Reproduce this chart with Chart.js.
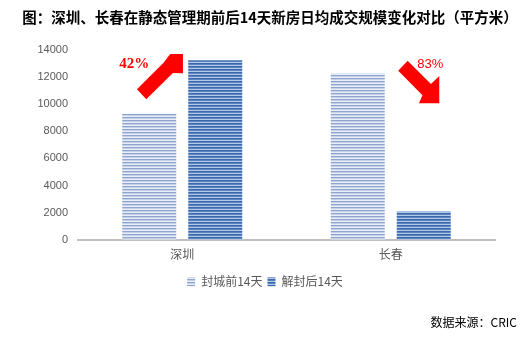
<!DOCTYPE html>
<html>
<head>
<meta charset="utf-8">
<script src="https://cdn.jsdelivr.net/npm/chart.js@4/dist/chart.umd.min.js"></script>
<style>
  html, body { margin: 0; padding: 0; background: #ffffff; }
  #wrap { width: 530px; height: 338px; }
</style>
</head>
<body>
<div id="wrap"><canvas id="c" width="530" height="338"></canvas></div>
<script>
// 城市与两个时段的日均成交面积（平方米）
const categories = ['深圳', '长春'];
const seriesNames = ['封城前14天', '解封后14天'];
const beforeValues = [9320, 12270];
const afterValues = [13250, 2090];
const changeLabels = ['42%', '83%'];
const yTicks = [0, 2000, 4000, 6000, 8000, 10000, 12000, 14000];

const titleText = '图：深圳、长春在静态管理期前后14天新房日均成交规模变化对比（平方米）';
const sourceText = '数据来源：CRIC';

// 横条纹填充
function stripePattern(rows) {
  const pc = document.createElement('canvas');
  pc.width = 4;
  pc.height = rows.length;
  const g = pc.getContext('2d');
  rows.forEach((col, i) => { g.fillStyle = col; g.fillRect(0, i, 4, 1); });
  return g.createPattern(pc, 'repeat');
}
const fillBefore = stripePattern(['#8ea6cf', '#c3d0e8', '#e8edf6']);
const fillAfter = stripePattern(['#3a69ad', '#5a84c0', '#b3c6e4']);

// 涨跌箭头（相对类目中心与绘图区顶部的偏移）
const arrowShapes = [
  { color: '#ff0000', pts: [[-45.3, 39.3], [-18.7, 12.7], [-12, 4], [0.7, 4], [0.7, 23.3], [-9.3, 23], [-36, 49.3]],
    label: { dx: -48, dy: 14, font: 'bold 15px "Liberation Serif"' } },
  { color: '#ff0000', pts: [[7.5, 20.7], [16.9, 10.7], [40.2, 34], [48.5, 26], [48.5, 53.3], [28.2, 53.3], [31.7, 45.3]],
    label: { dx: 39.5, dy: 14, font: '13px "Liberation Sans"' } }
];

const arrowPlugin = {
  id: 'changeArrows',
  afterDatasetsDraw(chart) {
    const ctx = chart.ctx;
    const xs = chart.scales.x;
    const top = chart.chartArea.top;
    ctx.save();
    arrowShapes.forEach((a, i) => {
      const ox = xs.getPixelForValue(i);
      ctx.beginPath();
      a.pts.forEach((p, k) => {
        const px = ox + p[0], py = top + p[1];
        if (k === 0) ctx.moveTo(px, py); else ctx.lineTo(px, py);
      });
      ctx.closePath();
      ctx.fillStyle = a.color;
      ctx.fill();
      ctx.font = a.label.font;
      ctx.fillStyle = '#ff0000';
      ctx.textAlign = 'center';
      ctx.textBaseline = 'middle';
      ctx.fillText(changeLabels[i], ox + a.label.dx, top + a.label.dy);
    });
    ctx.restore();
  }
};

// 标题与数据来源
const textPlugin = {
  id: 'headerFooter',
  afterDraw(chart) {
    const ctx = chart.ctx;
    ctx.save();
    ctx.fillStyle = '#000000';
    ctx.textBaseline = 'middle';
    ctx.font = 'bold 14.5px "Noto Sans CJK SC"';
    ctx.textAlign = 'center';
    ctx.fillText(titleText, 270, 17);
    ctx.font = '12px "Noto Sans CJK SC"';
    ctx.textAlign = 'right';
    ctx.fillText(sourceText, 517, 322);
    ctx.restore();
  }
};

new Chart(document.getElementById('c'), {
  type: 'bar',
  data: {
    labels: categories,
    datasets: [
      { label: seriesNames[0], data: beforeValues, backgroundColor: fillBefore, borderWidth: 0 },
      { label: seriesNames[1], data: afterValues, backgroundColor: fillAfter, borderWidth: 0 }
    ]
  },
  options: {
    responsive: false,
    animation: false,
    devicePixelRatio: 1,
    datasets: { bar: { categoryPercentage: 0.633, barPercentage: 0.818 } },
    layout: { padding: { left: 0, right: 0, top: 50, bottom: 40.3 } },
    plugins: {
      title: { display: false },
      legend: {
        position: 'bottom',
        labels: {
          boxWidth: 8,
          boxHeight: 9,
          padding: 5,
          color: '#595959',
          font: { family: '"Noto Sans CJK SC"', size: 12 }
        }
      },
      tooltip: { enabled: false }
    },
    scales: {
      x: {
        grid: { display: false, drawTicks: false },
        border: { display: true, color: '#bfbfbf', width: 2 },
        ticks: { color: '#595959', padding: 8, font: { family: '"Noto Sans CJK SC"', size: 12 } },
        afterFit(scale) { scale.height = 31; }
      },
      y: {
        min: 0,
        max: 14000,
        afterBuildTicks(scale) { scale.ticks = yTicks.map(v => ({ value: v })); },
        grid: { display: false, drawTicks: false },
        border: { display: false },
        ticks: {
          color: '#595959',
          padding: 10,
          font: { family: '"Liberation Sans"', size: 11 },
          callback: (v) => String(v)
        },
        afterFit(scale) { scale.width = 78; }
      },
      // 右侧留白
      yRight: {
        position: 'right',
        grid: { display: false, drawTicks: false },
        border: { display: false },
        ticks: { display: false },
        afterFit(scale) { scale.width = 35; }
      }
    }
  },
  plugins: [arrowPlugin, textPlugin]
});
</script>
</body>
</html>
